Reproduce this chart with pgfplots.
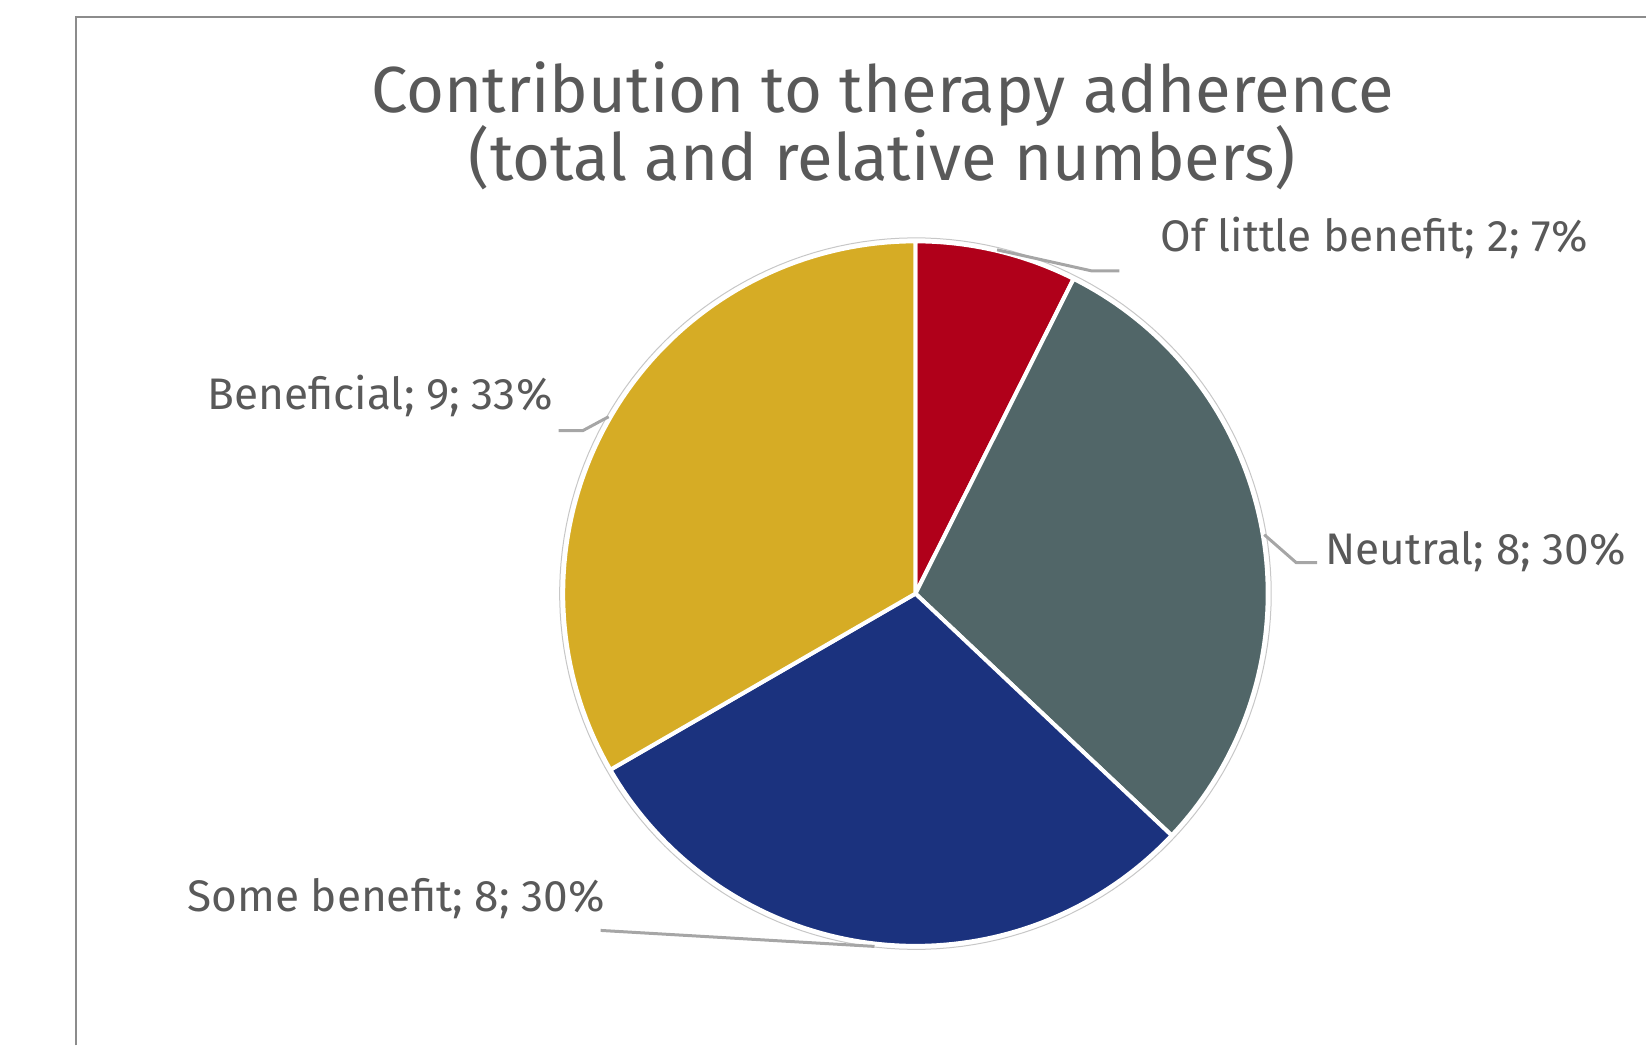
\documentclass[border=0pt]{standalone}
\usepackage{pgfplots}
\pgfplotsset{compat=1.18}
\usepackage{fontspec}
\setmainfont{Fira Sans}
\definecolor{cRed}{HTML}{B0001A}
\definecolor{cTeal}{HTML}{516668}
\definecolor{cNavy}{HTML}{1B327E}
\definecolor{cGold}{HTML}{D6AC25}
\definecolor{cText}{HTML}{595959}
\definecolor{cLead}{HTML}{A6A6A6}
\definecolor{cFrame}{HTML}{8C8C8C}
% data (clockwise from 12 o'clock)
\def\vA{2}% Of little benefit
\def\vB{8}% Neutral
\def\vC{8}% Some benefit
\def\vD{9}% Beneficial
\pgfmathsetmacro{\tot}{\vA+\vB+\vC+\vD}
\pgfmathsetmacro{\aA}{90}
\pgfmathsetmacro{\aB}{\aA-360*\vA/\tot}
\pgfmathsetmacro{\aC}{\aB-360*\vB/\tot}
\pgfmathsetmacro{\aD}{\aC-360*\vC/\tot}
\pgfmathsetmacro{\aE}{\aD-360*\vD/\tot}
\def\cx{916}
\def\cy{452}
\def\R{352.5}
\begin{document}
\begin{tikzpicture}
\begin{axis}[
  width=823.5pt, height=523pt, scale only axis,
  xmin=0, xmax=1647, ymin=0, ymax=1046,
  hide axis, clip=false,
]
\addplot[draw=none] coordinates {(0,0) (1647,1046)};
% frame
\draw[cFrame, line width=1pt] (axis cs:75.7,0) -- (axis cs:75.7,1029.3) -- (axis cs:1647,1029.3);
% slices
\addplot[fill=cRed, draw=white, line width=2pt, domain=\aB:\aA, samples=40, variable=\t]
  ({\cx+\R*cos(\t)},{\cy+\R*sin(\t)}) -- (axis cs:\cx,\cy) -- cycle;
\addplot[fill=cTeal, draw=white, line width=2pt, domain=\aC:\aB, samples=80, variable=\t]
  ({\cx+\R*cos(\t)},{\cy+\R*sin(\t)}) -- (axis cs:\cx,\cy) -- cycle;
\addplot[fill=cNavy, draw=white, line width=2pt, domain=\aD:\aC, samples=80, variable=\t]
  ({\cx+\R*cos(\t)},{\cy+\R*sin(\t)}) -- (axis cs:\cx,\cy) -- cycle;
\addplot[fill=cGold, draw=white, line width=2pt, domain=\aE:\aD, samples=80, variable=\t]
  ({\cx+\R*cos(\t)},{\cy+\R*sin(\t)}) -- (axis cs:\cx,\cy) -- cycle;
\addplot[draw=black!22, line width=0.5pt, domain=0:360, samples=180, variable=\t]
  ({\cx+356*cos(\t)},{\cy+356*sin(\t)});
% leader lines
\draw[cLead, line width=1.5pt] (axis cs:997.7,796) -- (axis cs:1092,775) -- (axis cs:1120,775);
\draw[cLead, line width=1.5pt] (axis cs:609,629) -- (axis cs:583,615) -- (axis cs:559,615);
\draw[cLead, line width=1.5pt] (axis cs:1265,511) -- (axis cs:1297,483) -- (axis cs:1318,483);
\draw[cLead, line width=1.5pt] (axis cs:875,99) -- (axis cs:601,115);
% title
\node[anchor=base, text=cText, font=\fontsize{32.6}{40}\selectfont, inner sep=0pt] at (axis cs:883,933.6) {Contribution to therapy adherence};
\node[anchor=base, text=cText, font=\fontsize{32.6}{40}\selectfont, inner sep=0pt] at (axis cs:883,865.3) {(total and relative numbers)};
% labels
\node[anchor=base west, text=cText, font=\fontsize{22.1}{27}\selectfont, inner sep=0pt] at (axis cs:1161,794) {Of little benefit; 2; 7\%};
\node[anchor=base west, text=cText, font=\fontsize{22.1}{27}\selectfont, inner sep=0pt] at (axis cs:207,636) {Beneficial; 9; 33\%};
\node[anchor=base west, text=cText, font=\fontsize{22.1}{27}\selectfont, inner sep=0pt] at (axis cs:1326,481) {Neutral; 8; 30\%};
\node[anchor=base west, text=cText, font=\fontsize{22.1}{27}\selectfont, inner sep=0pt] at (axis cs:187,134) {Some benefit; 8; 30\%};
\end{axis}
\end{tikzpicture}
\end{document}
